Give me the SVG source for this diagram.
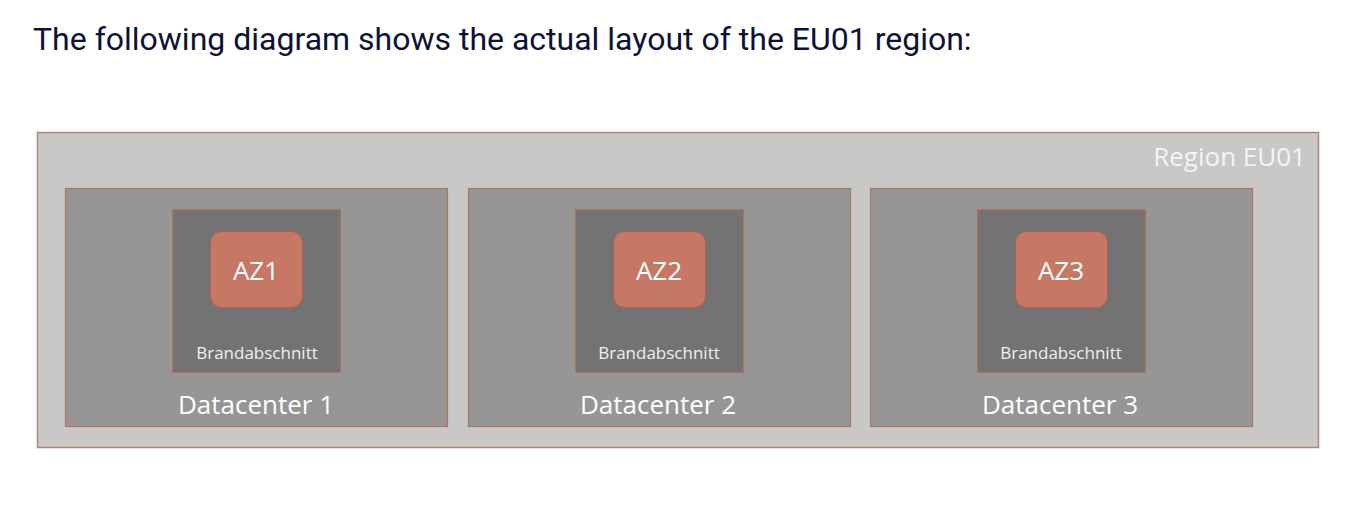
<svg xmlns="http://www.w3.org/2000/svg" width="1366" height="524" viewBox="0 0 1366 524">
<style>
.title{font-family:Roboto,"Liberation Sans",sans-serif;font-size:32px;fill:#0c1236}
.region{fill:#c8c8c6;stroke:#b08677;stroke-width:1.5}
.dc{fill:#969696;stroke:#b2725f;stroke-width:1.2}
.fire{fill:#737373;stroke:#b2725f;stroke-width:1.2}
.az{fill:#c67865;stroke:#b0604d;stroke-width:1}
.t{font-family:"Open Sans","Noto Sans",sans-serif;fill:#ffffff;text-anchor:middle}
.big{font-size:26px}
.az-t{font-size:26px}
.small{font-size:17px;fill:#f0f0f0}
</style>
<rect width="1366" height="524" fill="#ffffff"/>
<text class="title" x="33" y="50">The following diagram shows the actual layout of the EU01 region:</text>
<g id="region">
<rect class="region" x="37.5" y="132.5" width="1281" height="315"/>
<text class="t big" x="1306" y="166" style="text-anchor:end;fill:#f4f4f4">Region EU01</text>
</g>
<g id="dc1">
<rect class="dc" x="65.5" y="188.5" width="382" height="238"/>
<text class="t big" x="256" y="414">Datacenter 1</text>
</g>
<g id="fire1">
<rect class="fire" x="172.5" y="209.5" width="168" height="163"/>
<text class="t small" x="257" y="359">Brandabschnitt</text>
</g>
<g id="az1">
<rect class="az" x="210.5" y="231.5" width="92" height="76" rx="11"/>
<text class="t az-t" x="256" y="280">AZ1</text>
</g>
<g id="dc2">
<rect class="dc" x="468.5" y="188.5" width="382" height="238"/>
<text class="t big" x="658" y="414">Datacenter 2</text>
</g>
<g id="fire2">
<rect class="fire" x="575.5" y="209.5" width="168" height="163"/>
<text class="t small" x="659" y="359">Brandabschnitt</text>
</g>
<g id="az2">
<rect class="az" x="613.5" y="231.5" width="92" height="76" rx="11"/>
<text class="t az-t" x="659" y="280">AZ2</text>
</g>
<g id="dc3">
<rect class="dc" x="870.5" y="188.5" width="382" height="238"/>
<text class="t big" x="1060" y="414">Datacenter 3</text>
</g>
<g id="fire3">
<rect class="fire" x="977.5" y="209.5" width="168" height="163"/>
<text class="t small" x="1061" y="359">Brandabschnitt</text>
</g>
<g id="az3">
<rect class="az" x="1015.5" y="231.5" width="92" height="76" rx="11"/>
<text class="t az-t" x="1061" y="280">AZ3</text>
</g>
<g id="connectors"></g>
</svg>
